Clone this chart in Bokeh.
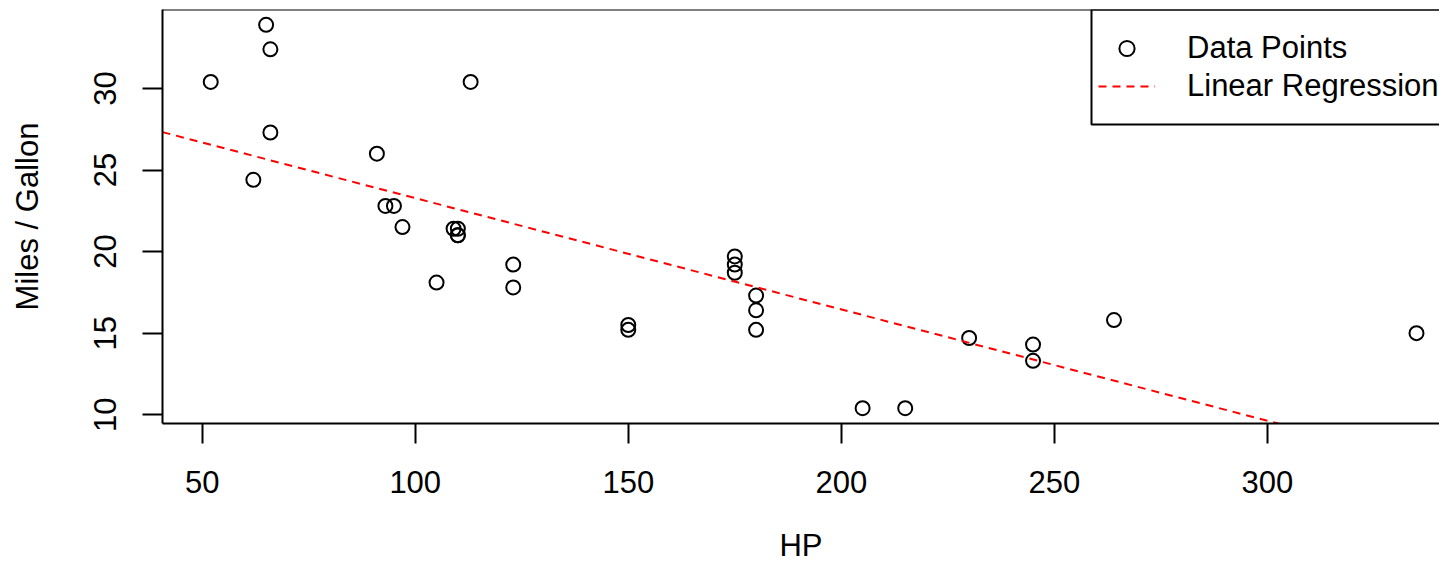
import numpy as np
from bokeh.plotting import figure
from bokeh.models import Range1d, FixedTicker, Legend, LegendItem, BoxAnnotation, Span
from bokeh.embed import file_html
from bokeh.resources import INLINE

# mtcars: horsepower vs miles per gallon
hp = [110, 110, 93, 110, 175, 105, 245, 62, 95, 123, 123, 180, 180, 180, 205, 215,
      230, 66, 52, 65, 97, 150, 150, 245, 175, 66, 91, 113, 264, 175, 335, 109]
mpg = [21.0, 21.0, 22.8, 21.4, 18.7, 18.1, 14.3, 24.4, 22.8, 19.2, 17.8, 16.4, 17.3, 15.2, 10.4, 10.4,
       14.7, 32.4, 30.4, 33.9, 21.5, 15.5, 15.2, 13.3, 19.2, 27.3, 26.0, 30.4, 15.8, 19.7, 15.0, 21.4]
x_ticks = [50, 100, 150, 200, 250, 300]
y_ticks = [10, 15, 20, 25, 30]

FONT = "Liberation Sans"
FS = "31px"

# R-style axis limits (4% padding)
xmin, xmax = min(hp), max(hp)
ymin, ymax = min(mpg), max(mpg)
x0 = xmin - 0.04 * (xmax - xmin)
x1_full = xmax + 0.04 * (xmax - xmin)
y0 = ymin - 0.04 * (ymax - ymin)
y1 = ymax + 0.04 * (ymax - ymin)
x1_visible = 340.4  # reference image is cropped on the right

slope, intercept = np.polyfit(hp, mpg, 1)

p = figure(width=1439, height=565,
           x_range=Range1d(x0, x1_visible), y_range=Range1d(y0, y1),
           output_backend="svg", toolbar_location=None,
           min_border_left=162, min_border_right=0,
           min_border_top=9, min_border_bottom=142)
p.grid.visible = False
p.outline_line_color = None
p.background_fill_color = "white"

pts = p.scatter(hp, mpg, marker="circle", size=14, fill_color=None,
                line_color="black", line_width=2)
lx = [x0, x1_full]
ly = [intercept + slope * v for v in lx]
ln = p.line(lx, ly, line_color="red", line_width=2, line_dash="8 6")

for ax in (p.xaxis, p.yaxis):
    ax.minor_tick_line_color = None
    ax.major_tick_out = 20
    ax.major_tick_in = 0
    ax.major_tick_line_width = 2
    ax.major_tick_line_color = "black"
    ax.axis_line_width = 2
    ax.axis_line_color = "black"
    ax.major_label_text_font = FONT
    ax.major_label_text_font_size = FS
    ax.major_label_text_color = "black"
    ax.axis_label_text_font = FONT
    ax.axis_label_text_font_size = FS
    ax.axis_label_text_font_style = "normal"
    ax.axis_label_text_color = "black"

p.xaxis.ticker = FixedTicker(ticks=x_ticks)
p.yaxis.ticker = FixedTicker(ticks=y_ticks)
p.xaxis.axis_label = "HP"
p.yaxis.axis_label = "Miles / Gallon"
p.xaxis.major_label_standoff = 27
p.yaxis.major_label_standoff = 26
p.yaxis.major_label_orientation = "vertical"
p.xaxis.axis_label_standoff = 32
p.yaxis.axis_label_standoff = 47

# top border of the plot box
p.add_layout(Span(location=y1, dimension="width", line_color="black", line_width=2))

# legend box (cropped at right like the reference)
p.add_layout(BoxAnnotation(left=929, right=3000, bottom=299, top=414,
                           left_units="screen", right_units="screen",
                           bottom_units="screen", top_units="screen",
                           fill_alpha=0, line_color="black", line_alpha=1.0, line_width=2))

legend = Legend(items=[LegendItem(label="Data Points", renderers=[pts]),
                       LegendItem(label="Linear Regression", renderers=[ln])],
                location=(936, 318), padding=0, spacing=0, margin=0,
                glyph_width=57, glyph_height=38, label_height=38, label_standoff=32,
                border_line_color=None, background_fill_alpha=0,
                label_text_font=FONT, label_text_font_size=FS, label_text_color="black")
p.add_layout(legend)

open("out.html", "w").write(file_html(p, INLINE))
